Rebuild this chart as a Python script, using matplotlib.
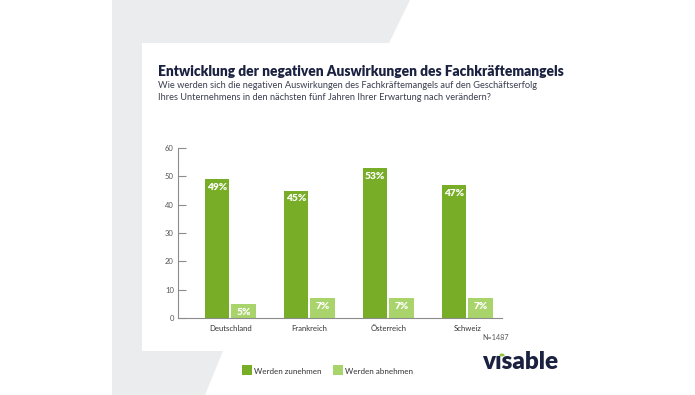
import matplotlib.pyplot as plt
from matplotlib.patches import Polygon, Rectangle
import numpy as np

# Data
countries = ["Deutschland", "Frankreich", "Österreich", "Schweiz"]
zunehmen = [49, 45, 53, 47]
abnehmen = [5, 7, 7, 7]
series_names = ["Werden zunehmen", "Werden abnehmen"]
yticks = [0, 10, 20, 30, 40, 50, 60]

title = "Entwicklung der negativen Auswirkungen des Fachkräftemangels"
subtitle = ("Wie werden sich die negativen Auswirkungen des Fachkräftemangels auf den Geschäftserfolg\n"
            "Ihres Unternehmens in den nächsten fünf Jahren Ihrer Erwartung nach verändern?")
note = "N=1487"

# Colours
dark_green = "#77ad27"
light_green = "#a9d46c"
navy = "#1b2140"
grey_bg = "#ebecee"
axis_grey = "#8c8c8c"

plt.rcParams["font.family"] = ["Lato", "DejaVu Sans"]

W, H = 695, 395
fig = plt.figure(figsize=(W / 100, H / 100), dpi=100)
fig.patch.set_facecolor("white")


def px(x, y):
    # pixel coords (from top-left) -> figure fraction
    return (x / W, 1 - y / H)


# grey background frame
pts = [(112, 0), (410, 0), (389, 43), (142, 43), (142, 351),
       (223, 351), (205, 395), (112, 395)]
fig.patches.append(Polygon([px(*p) for p in pts], closed=True,
                           transform=fig.transFigure, facecolor=grey_bg,
                           edgecolor="none", zorder=0))

# title + subtitle
fig.text(*px(158, 72), title, fontsize=9.9, fontweight="heavy", color=navy,
         va="center", ha="left")
fig.text(*px(158, 91.5), subtitle, fontsize=6.65, color="#3a3f4f",
         va="center", ha="left", linespacing=1.3)

# chart
ax = fig.add_axes([178 / W, 1 - 318 / H, 324 / W, 170 / H])
ax.set_facecolor("none")
x = np.arange(len(countries))
w = 0.31
off = 0.168
b1 = ax.bar(x - off, zunehmen, w, color=dark_green, label=series_names[0])
b2 = ax.bar(x + off, abnehmen, w, color=light_green, label=series_names[1])

for bars, vals in [(b1, zunehmen), (b2, abnehmen)]:
    for rect, v in zip(bars, vals):
        ax.annotate(f"{v}%", (rect.get_x() + rect.get_width() / 2, v),
                    xytext=(0, -6), textcoords="offset points",
                    ha="center", va="center", color="white",
                    fontsize=7.3, fontweight="heavy")

ax.set_xlim(-0.66, 3.44)
ax.set_ylim(0, 60)
ax.set_yticks(yticks)
ax.set_xticks(x)
ax.set_xticklabels(countries)
for s in ["top", "right"]:
    ax.spines[s].set_visible(False)
ax.spines["left"].set_color(axis_grey)
ax.spines["bottom"].set_color(axis_grey)
ax.spines["left"].set_linewidth(0.8)
ax.spines["bottom"].set_linewidth(0.8)
ax.tick_params(axis="y", direction="in", length=6, width=0.8, color=axis_grey,
               labelsize=5.5, labelcolor="#555555", pad=3)
ax.tick_params(axis="x", length=0, labelsize=5.6, labelcolor="#333333", pad=5)

fig.text(*px(482, 338), note, fontsize=5.2, color="#555555", va="center", ha="left")

# legend
for (sx, tx), name, col in zip([(242, 254), (333, 345)], series_names,
                               [dark_green, light_green]):
    fig.patches.append(Rectangle(px(sx, 375), 10 / W, 10 / H,
                                 transform=fig.transFigure, facecolor=col,
                                 edgecolor="none"))
    fig.text(*px(tx, 371), name, fontsize=5.8, color="#333333",
             va="center", ha="left")

# logo
fig.text(*px(482, 369), "v\u0131sable", fontsize=17.5, fontweight="heavy",
         color=navy, va="baseline", ha="left")
fig.patches.append(plt.Circle(px(502, 355), 2.6 / W, transform=fig.transFigure,
                              facecolor="#8cc63f", edgecolor="none"))

fig.savefig("out.png", dpi=100)
